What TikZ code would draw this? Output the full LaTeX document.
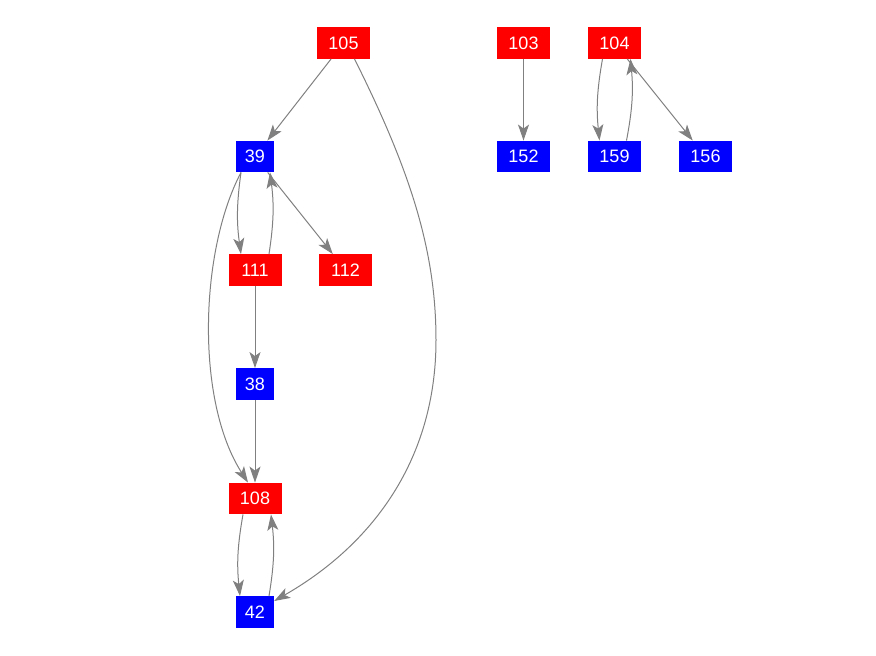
\documentclass[tikz,border=0pt]{standalone}
\usepackage{fontspec}
\setmainfont{Liberation Sans}
\usetikzlibrary{arrows.meta}
\definecolor{nred}{RGB}{255,0,0}
\definecolor{nblue}{RGB}{0,0,255}
\definecolor{edgegray}{RGB}{128,128,128}
\tikzset{
  vtx/.style={inner sep=0pt, text=white, font=\fontsize{18}{18}\selectfont, minimum height=31.5pt},
  wide/.style={vtx, minimum width=53pt},
  narrow/.style={vtx, minimum width=38pt},
  redbox/.style={fill=nred},
  bluebox/.style={fill=nblue},
  edge/.style={draw=edgegray, line width=1pt, -{Stealth[length=16pt,width=11pt,inset=4pt]}}
}
\begin{document}
\begin{tikzpicture}[x=1pt,y=1pt]
\useasboundingbox (0,0) rectangle (876,-656);
% nodes
\node[wide,redbox]   (n105) at (343.5,-43) {105};
\node[wide,redbox]   (n103) at (523.5,-43) {103};
\node[wide,redbox]   (n104) at (614.5,-43) {104};
\node[narrow,bluebox] (n39) at (255,-156.5) {39};
\node[wide,bluebox]  (n152) at (523.5,-156.5) {152};
\node[wide,bluebox]  (n159) at (614.5,-156.5) {159};
\node[wide,bluebox]  (n156) at (705.5,-156.5) {156};
\node[wide,redbox]   (n111) at (255,-270) {111};
\node[wide,redbox]   (n112) at (345.5,-270) {112};
\node[narrow,bluebox] (n38) at (255,-384) {38};
\node[wide,redbox]   (n108) at (255,-498.5) {108};
\node[narrow,bluebox] (n42) at (255,-612) {42};
\coordinate (m1) at (436,-340);
% edges
\draw[edge] (n105) -- (n39);
\draw[draw=edgegray, line width=1pt] ([xshift=11pt]n105.south) .. controls (410,-170) and (436,-250) .. (m1);
\draw[edge] (m1) .. controls (436,-460) and (372,-545) .. (n42);
\draw[edge] ([xshift=-14pt]n39.south) to[bend right=8] ([xshift=-14pt]n111.north);
\draw[edge] ([xshift=14pt]n111.north) to[bend right=8] ([xshift=15pt]n39.south);
\draw[edge] (n39) -- (n112);
\draw[edge] ([xshift=-14pt]n39.south) .. controls (200,-250) and (195,-400) .. ([xshift=-7pt]n108.north);
\draw[edge] (n111) -- (n38);
\draw[edge] (n38) -- (n108);
\draw[edge] ([xshift=-12pt]n108.south) to[bend right=8] ([xshift=-15pt]n42.north);
\draw[edge] ([xshift=14pt]n42.north) to[bend right=8] ([xshift=16pt]n108.south);
\draw[edge] (n103) -- (n152);
\draw[edge] ([xshift=-12pt]n104.south) to[bend right=8] ([xshift=-15pt]n159.north);
\draw[edge] ([xshift=12pt]n159.north) to[bend right=8] ([xshift=16pt]n104.south);
\draw[edge] (n104) -- (n156);
\end{tikzpicture}
\end{document}
